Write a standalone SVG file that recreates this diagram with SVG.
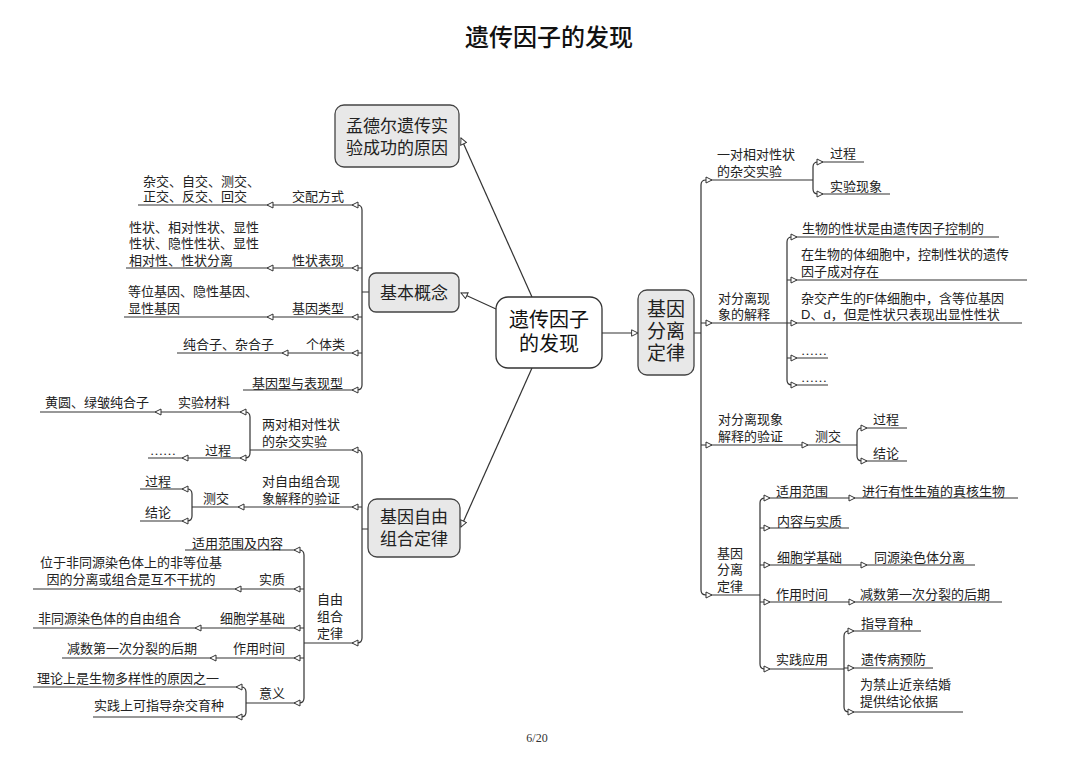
<svg xmlns="http://www.w3.org/2000/svg" xmlns:xlink="http://www.w3.org/1999/xlink" width="1080" height="764" viewBox="0 0 1080 764">
<style>
.t{font-family:'Liberation Serif','Noto Sans CJK SC',serif;font-size:13px;fill:#222}
.n{font-family:'Liberation Serif','Noto Sans CJK SC',serif;font-size:17px;fill:#222}
.c{font-family:'Liberation Serif','Noto Sans CJK SC',serif;font-size:20px;fill:#111}
.mid{text-anchor:middle}
.end{text-anchor:end}
.box{fill:#e8e8e8;stroke:#444;stroke-width:1.3}
.ln{stroke:#333;stroke-width:1.2;fill:none}
.ah{fill:#fff;stroke:#333;stroke-width:1}
</style>
<defs>
<path id="al" class="ah" d="M0,0 L6,-3 L6,3 Z"/>
<path id="ar" class="ah" d="M0,0 L-6,-3 L-6,3 Z"/>
<marker id="m" viewBox="0 0 10 10" refX="9" refY="5" markerWidth="8" markerHeight="8" markerUnits="userSpaceOnUse" orient="auto">
<path d="M1,1 L9,5 L1,9 Z" fill="#fff" stroke="#333" stroke-width="1.2"/>
</marker>
</defs>
<rect width="1080" height="764" fill="#fff"/>
<text x="549" y="46" class="mid" style="font-family:'Noto Sans CJK SC',sans-serif;font-size:24px;font-weight:500;fill:#111">遗传因子的发现</text>
<text x="537" y="742" class="mid" style="font-family:'Liberation Serif',serif;font-size:12px;fill:#333">6/20</text>

<g id="connectors">
<path class="ln" marker-end="url(#m)" d="M532,297 L461,138"/>
<path class="ln" marker-end="url(#m)" d="M496,309 L461,293"/>
<path class="ln" marker-end="url(#m)" d="M602,333 L638,333"/>
<path class="ln" marker-end="url(#m)" d="M532,368 L461,527"/>
<!-- 基本概念 tree -->
<path class="ln" d="M357,205 Q362,205 362,210 V385 Q362,390 357,390 M362,292 H369 M357,205 H138 M362,268 H126 M362,317 H124 M362,353 H177 M357,390 H243"/>
<!-- 自由组合 tree -->
<path class="ln" d="M357,450 Q362,450 362,455 V638 Q362,643 357,643 M362,529 H368 M357,450 H250 M245,412 Q250,412 250,417 V453 Q250,458 245,458 M245,412 H40 M245,458 H148 M362,507 H192 M187,489 Q192,489 192,494 V516 Q192,521 187,521 M187,489 H140 M187,521 H140 M357,643 H304 M299,550 Q304,550 304,555 V698 Q304,703 299,703 M299,550 H185 M304,589 H33 M304,628 H33 M304,658 H62 M299,703 H246 M241,687 Q246,687 246,692 V712 Q246,717 241,717 M241,687 H33 M241,717 H93"/>
<!-- 分离定律 tree -->
<path class="ln" d="M706,180 Q701,180 701,185 V590 Q701,595 706,595 M694,333 H701 M706,180 H813 M818,162 Q813,162 813,167 V189 Q813,194 818,194 M818,162 H864 M818,194 H890 M701,323 H787 M792,237 Q787,237 787,242 V380 Q787,385 792,385 M792,237 H999 M787,280 H1027 M787,323 H1022 M787,358 H828 M792,385 H828 M701,445 H857 M862,428 Q857,428 857,433 V456 Q857,461 862,461 M862,428 H907 M862,461 H907 M706,595 H760 M765,498 Q760,498 760,503 V664 Q760,669 765,669 M765,498 H1018 M760,528 H849 M760,565 H975 M760,602 H1002 M765,669 H844 M849,631 Q844,631 844,636 V707 Q844,712 849,712 M849,631 H921 M844,668 H933 M849,712 H963"/>
<!-- left arrows -->
<use href="#al" x="352" y="205"/><use href="#al" x="352" y="268"/><use href="#al" x="352" y="317"/><use href="#al" x="352" y="353"/><use href="#al" x="352" y="390"/>
<use href="#al" x="267" y="205"/><use href="#al" x="267" y="268"/><use href="#al" x="267" y="317"/><use href="#al" x="282" y="353"/>
<use href="#al" x="352" y="450"/><use href="#al" x="352" y="507"/><use href="#al" x="352" y="643"/>
<use href="#al" x="240" y="412"/><use href="#al" x="240" y="458"/><use href="#al" x="155" y="412"/><use href="#al" x="182" y="458"/>
<use href="#al" x="238" y="507"/><use href="#al" x="182" y="489"/><use href="#al" x="182" y="521"/>
<use href="#al" x="294" y="550"/><use href="#al" x="294" y="589"/><use href="#al" x="294" y="628"/><use href="#al" x="294" y="658"/><use href="#al" x="294" y="703"/>
<use href="#al" x="235" y="589"/><use href="#al" x="195" y="628"/><use href="#al" x="210" y="658"/>
<use href="#al" x="236" y="687"/><use href="#al" x="236" y="717"/>
<!-- right arrows -->
<use href="#ar" x="712" y="180"/><use href="#ar" x="712" y="323"/><use href="#ar" x="712" y="445"/><use href="#ar" x="712" y="595"/>
<use href="#ar" x="823" y="162"/><use href="#ar" x="823" y="194"/>
<use href="#ar" x="797" y="237"/><use href="#ar" x="797" y="280"/><use href="#ar" x="797" y="323"/><use href="#ar" x="797" y="358"/><use href="#ar" x="797" y="385"/>
<use href="#ar" x="808" y="445"/><use href="#ar" x="867" y="428"/><use href="#ar" x="867" y="461"/>
<use href="#ar" x="770" y="498"/><use href="#ar" x="770" y="528"/><use href="#ar" x="770" y="565"/><use href="#ar" x="770" y="602"/><use href="#ar" x="770" y="669"/>
<use href="#ar" x="855" y="498"/><use href="#ar" x="855" y="602"/><use href="#ar" x="867" y="565"/>
<use href="#ar" x="854" y="631"/><use href="#ar" x="854" y="668"/><use href="#ar" x="854" y="712"/>
</g>

<g id="center">
<rect x="496" y="297" width="106" height="71" rx="12" fill="#fff" stroke="#333" stroke-width="1.3"/>
<text class="c mid" x="549" y="327">遗传因子</text>
<text class="c mid" x="549" y="351">的发现</text>
</g>
<g id="mendel">
<rect class="box" x="335" y="105" width="124" height="62" rx="9"/>
<text class="n mid" x="397" y="132">孟德尔遗传实</text>
<text class="n mid" x="397" y="154">验成功的原因</text>
</g>
<g id="concepts">
<rect class="box" x="369" y="273" width="90" height="39" rx="7"/>
<text class="n mid" x="414" y="299">基本概念</text>
</g>
<g id="free">
<rect class="box" x="368" y="499" width="92" height="58" rx="9"/>
<text class="n mid" x="414" y="523">基因自由</text>
<text class="n mid" x="414" y="545">组合定律</text>
</g>
<g id="segregation">
<rect class="box" x="638" y="290" width="56" height="85" rx="9"/>
<text class="n mid" x="666" y="316" style="font-size:19px">基因</text>
<text class="n mid" x="666" y="338" style="font-size:19px">分离</text>
<text class="n mid" x="666" y="360" style="font-size:19px">定律</text>
</g>

<g id="concepts-branches">
<text class="t" x="143" y="186">杂交、自交、测交、</text>
<text class="t" x="143" y="201">正交、反交、回交</text>
<text class="t end" x="344" y="201">交配方式</text>
<text class="t" x="129" y="232">性状、相对性状、显性</text>
<text class="t" x="129" y="248">性状、隐性性状、显性</text>
<text class="t" x="129" y="265">相对性、性状分离</text>
<text class="t end" x="344" y="265">性状表现</text>
<text class="t" x="128" y="296">等位基因、隐性基因、</text>
<text class="t" x="128" y="313">显性基因</text>
<text class="t end" x="344" y="313">基因类型</text>
<text class="t" x="183" y="349">纯合子、杂合子</text>
<text class="t end" x="345" y="349">个体类</text>
<text class="t end" x="343" y="388">基因型与表现型</text>
</g>

<g id="free-branches">
<text class="t" x="45" y="407">黄圆、绿皱纯合子</text>
<text class="t" x="178" y="407">实验材料</text>
<text class="t" x="262" y="429">两对相对性状</text>
<text class="t" x="262" y="446">的杂交实验</text>
<text class="t" x="205" y="455">过程</text>
<text class="t" x="150" y="455">……</text>
<text class="t" x="262" y="486">对自由组合现</text>
<text class="t" x="262" y="503">象解释的验证</text>
<text class="t" x="203" y="503">测交</text>
<text class="t" x="145" y="486">过程</text>
<text class="t" x="145" y="517">结论</text>
<text class="t" x="192" y="548">适用范围及内容</text>
<text class="t mid" x="131" y="567">位于非同源染色体上的非等位基</text>
<text class="t mid" x="131" y="584">因的分离或组合是互不干扰的</text>
<text class="t" x="259" y="584">实质</text>
<text class="t" x="38" y="623">非同源染色体的自由组合</text>
<text class="t" x="220" y="623">细胞学基础</text>
<text class="t" x="67" y="653">减数第一次分裂的后期</text>
<text class="t" x="233" y="653">作用时间</text>
<text class="t" x="317" y="604">自由</text>
<text class="t" x="317" y="621">组合</text>
<text class="t" x="317" y="638">定律</text>
<text class="t" x="37" y="683">理论上是生物多样性的原因之一</text>
<text class="t" x="259" y="698">意义</text>
<text class="t" x="94" y="710">实践上可指导杂交育种</text>
</g>

<g id="segregation-branches">
<text class="t" x="717" y="159">一对相对性状</text>
<text class="t" x="717" y="176">的杂交实验</text>
<text class="t" x="830" y="158">过程</text>
<text class="t" x="830" y="191">实验现象</text>
<text class="t" x="802" y="233">生物的性状是由遗传因子控制的</text>
<text class="t" x="801" y="259">在生物的体细胞中，控制性状的遗传</text>
<text class="t" x="801" y="276">因子成对存在</text>
<text class="t" x="801" y="303">杂交产生的<tspan style="font-family:'Liberation Sans',sans-serif">F</tspan>体细胞中，含等位基因</text>
<text class="t" x="801" y="319"><tspan style="font-family:'Liberation Sans',sans-serif">D</tspan>、<tspan style="font-family:'Liberation Sans',sans-serif">d</tspan>，但是性状只表现出显性性状</text>
<text class="t" x="718" y="303">对分离现</text>
<text class="t" x="718" y="319">象的解释</text>
<text class="t" x="801" y="355">……</text>
<text class="t" x="801" y="382">……</text>
<text class="t" x="718" y="424">对分离现象</text>
<text class="t" x="718" y="441">解释的验证</text>
<text class="t" x="815" y="441">测交</text>
<text class="t" x="873" y="424">过程</text>
<text class="t" x="873" y="458">结论</text>
<text class="t" x="776" y="496">适用范围</text>
<text class="t" x="862" y="496">进行有性生殖的真核生物</text>
<text class="t" x="777" y="526">内容与实质</text>
<text class="t" x="717" y="558">基因</text>
<text class="t" x="717" y="574">分离</text>
<text class="t" x="717" y="591">定律</text>
<text class="t" x="777" y="562">细胞学基础</text>
<text class="t" x="874" y="562">同源染色体分离</text>
<text class="t" x="776" y="599">作用时间</text>
<text class="t" x="860" y="599">减数第一次分裂的后期</text>
<text class="t" x="861" y="628">指导育种</text>
<text class="t" x="776" y="664">实践应用</text>
<text class="t" x="861" y="664">遗传病预防</text>
<text class="t" x="860" y="689">为禁止近亲结婚</text>
<text class="t" x="860" y="706">提供结论依据</text>
</g>
</svg>
